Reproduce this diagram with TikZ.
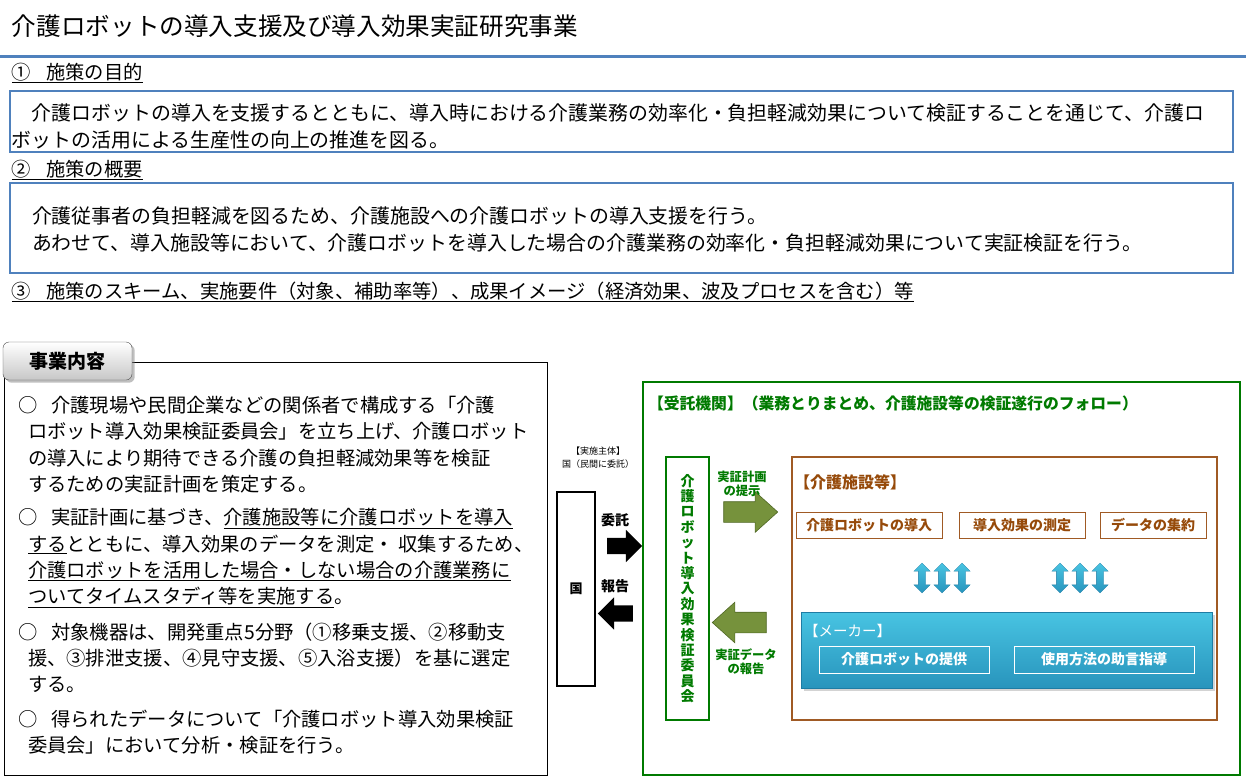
\documentclass[tikz,border=0pt]{standalone}
\usepackage{fontspec}
\setmainfont{Noto Sans CJK JP}
\usepackage{xcolor}
\usepackage{tikz}
\usetikzlibrary{shapes.arrows,positioning,shadows}

\definecolor{lineblue}{RGB}{79,129,189}
\definecolor{itakugreen}{RGB}{0,122,0}
\definecolor{arrowgreen}{RGB}{118,146,60}
\definecolor{arrowgreendk}{RGB}{80,104,38}
\definecolor{shisetsubrown}{RGB}{160,90,36}
\definecolor{shisetsutext}{RGB}{150,74,10}
\definecolor{makertop}{RGB}{72,196,226}
\definecolor{makerbot}{RGB}{40,148,188}
\definecolor{makerline}{RGB}{30,124,164}

\newcommand{\fsz}[2]{\fontsize{#1}{#2}\selectfont}

\begin{document}
\begin{tikzpicture}[
  x=1pt, y=-1pt,
  every node/.style={inner sep=0pt, outer sep=0pt},
  heading/.style ={anchor=west, font=\fsz{19.3}{19.3}},
  bodytext/.style={anchor=west, align=left, font=\fsz{19.9}{27}},
  bluebox/.style ={draw=lineblue, line width=1.3pt, anchor=north west},
  bullet/.style  ={anchor=west, align=left, font=\fsz{19.3}{26.3}},
  gtext/.style   ={text=itakugreen, align=center, font=\bfseries\fsz{12.3}{14}},
  blkarrow/.style={single arrow, fill=black, minimum height=35pt, inner ysep=8pt,
                   single arrow head extend=8pt, single arrow tip angle=90},
  grnarrow/.style={single arrow, draw=arrowgreendk, fill=arrowgreen, line width=0.6pt,
                   minimum height=54pt, inner ysep=10pt,
                   single arrow head extend=10pt, single arrow tip angle=84},
  workbox/.style ={draw=shisetsubrown, line width=1pt, text=shisetsutext,
                   minimum height=26pt, font=\bfseries\fsz{14}{14}},
  updown/.style  ={double arrow, shape border rotate=90, minimum height=30pt,
                   inner sep=3.5pt, double arrow head extend=4.5pt,
                   top color=makertop, bottom color=makerbot, draw=makerline, line width=0.3pt},
  makerbox/.style={draw=white, line width=1pt, text=white, minimum height=27pt,
                   font=\bfseries\fsz{14}{14}}
]
\useasboundingbox (0,0) rectangle (1246,777);

% title and section headings
\node[anchor=west, font=\fsz{24.6}{24.6}] (title) at (12,26) {介護ロボットの導入支援及び導入効果実証研究事業};
\draw[lineblue, line width=3pt] (0,56) -- (1246,56);

\node[heading] (h1) at (12,73) {\underline{①\hspace{15pt}施策の目的}};
\node[bluebox, minimum width=1223pt, minimum height=61pt] (purpose) at (10,91) {};
\node[bodytext] (purposetext) at (12,126.5) {%
  \hspace*{20pt}介護ロボットの導入を支援するとともに、導入時における介護業務の効率化・負担軽減効果について検証することを通じて、介護ロ\\
  ボットの活用による生産性の向上の推進を図る。};

\node[heading] (h2) at (12,170) {\underline{②\hspace{15pt}施策の概要}};
\node[bluebox, minimum width=1223pt, minimum height=90pt] (outline) at (10,183) {};
\node[bodytext] (outlinetext) at (32,229) {%
  介護従事者の負担軽減を図るため、介護施設への介護ロボットの導入支援を行う。\\
  あわせて、導入施設等において、介護ロボットを導入した場合の介護業務の効率化・負担軽減効果について実証検証を行う。};

\node[heading] (h3) at (12,292) {\underline{③\hspace{15pt}施策のスキーム、実施要件（対象、補助率等）、成果イメージ（経済効果、波及プロセスを含む）等}};

% business contents panel
\node[draw, line width=1pt, anchor=north west, minimum width=543pt, minimum height=413pt] (naiyou) at (4,362) {};
\node[draw=black!70, rounded corners=6pt, top color=white, bottom color=black!22,
      minimum width=129pt, minimum height=38pt, drop shadow,
      font=\bfseries\fsz{19}{19}] (tab) at (67.5,361) {事業内容};

\node[bullet] (b1) at (18,444.5) {%
  ○\hspace{14pt}介護現場や民間企業などの関係者で構成する「介護\\
  \hspace*{10pt}ロボット導入効果検証委員会」を立ち上げ、介護ロボット\\
  \hspace*{10pt}の導入により期待できる介護の負担軽減効果等を検証\\
  \hspace*{10pt}するための実証計画を策定する。};
\node[bullet] (b2) at (18,558) {%
  ○\hspace{14pt}実証計画に基づき、\underline{介護施設等に介護ロボットを導入}\\
  \hspace*{10pt}\underline{する}とともに、導入効果のデータを測定・ 収集するため、\\
  \hspace*{10pt}\underline{介護ロボットを活用した場合・しない場合の介護業務に}\\
  \hspace*{10pt}\underline{ついてタイムスタディ等を実施する}。};
\node[bullet] (b3) at (18,658) {%
  ○\hspace{14pt}対象機器は、開発重点5分野（①移乗支援、②移動支\\
  \hspace*{10pt}援、③排泄支援、④見守支援、⑤入浴支援）を基に選定\\
  \hspace*{10pt}する。};
\node[bullet] (b4) at (18,732) {%
  ○\hspace{14pt}得られたデータについて「介護ロボット導入効果検証\\
  \hspace*{10pt}委員会」において分析・検証を行う。};

% the state and its arrows
\node[font=\fsz{9}{13}, align=center] (shutai) at (598,458) {【実施主体】\\国（民間に委託）};
\node[draw, line width=1.5pt, minimum width=38pt, minimum height=194pt, anchor=north west,
      font=\bfseries\fsz{13}{13}] (kuni) at (557,492) {国};
\node[blkarrow] (itaku) at (620.5,546) {};
\node[font=\bfseries\fsz{14}{14}] (itakulabel) at (615,520) {委託};
\node[blkarrow, shape border rotate=180] (houkoku) at (619.5,613.5) {};
\node[font=\bfseries\fsz{14}{14}] (houkokulabel) at (615,586) {報告};

% contracted organisation
\node[draw=itakugreen, line width=1.5pt, anchor=north west, minimum width=597pt,
      minimum height=393pt] (jutaku) at (643,382) {};
\node[anchor=west, text=itakugreen, font=\bfseries\fsz{15.8}{15.8}] (jutakutitle) at (648,403)
  {【受託機関】（業務とりまとめ、介護施設等の検証遂行のフォロー）};
\node[draw=itakugreen, line width=2pt, anchor=north west, minimum width=43pt, minimum height=263pt,
      text=itakugreen, align=center, font=\bfseries\fsz{14}{15.4}] (iinkai) at (666,457)
  {介\\護\\ロ\\ボ\\ッ\\ト\\導\\入\\効\\果\\検\\証\\委\\員\\会};

\node[grnarrow] (teiji) at (745,512) {};
\node[gtext] (teijilabel) at (742,484) {実証計画\\の提示};
\node[grnarrow, shape border rotate=180] (hokoku) at (745,622.5) {};
\node[gtext] (hokokulabel) at (746,662) {実証データ\\の報告};

% care facilities
\node[draw=shisetsubrown, line width=1.5pt, anchor=north west, minimum width=425pt,
      minimum height=263pt] (shisetsu) at (792,457) {};
\node[anchor=west, text=shisetsutext, font=\bfseries\fsz{16}{16}] (shisetsutitle) at (794,482) {【介護施設等】};
\node[workbox, minimum width=146pt] (donyu) at (869,525) {介護ロボットの導入};
\node[workbox, minimum width=126pt, right=17pt of donyu] (sokutei) {導入効果の測定};
\node[workbox, minimum width=106pt, right=15pt of sokutei] (shuyaku) {データの集約};

\node[updown] (ud1) at (922,578) {};
\node[updown] (ud2) at (942,578) {};
\node[updown] (ud3) at (962,578) {};
\node[updown] (ud4) at (1060,578) {};
\node[updown] (ud5) at (1080,578) {};
\node[updown] (ud6) at (1100,578) {};

% makers
\node[anchor=north west, minimum width=411pt, minimum height=76pt, draw=makerline, line width=0.8pt,
      top color=makertop, bottom color=makerbot, drop shadow={opacity=0.35}] (maker) at (801,612) {};
\node[anchor=west, text=white, font=\fsz{14.5}{14.5}] (makertitle) at (804,631) {【メーカー】};
\node[makerbox, minimum width=170pt] (teikyo) at (904,659.5) {介護ロボットの提供};
\node[makerbox, minimum width=180pt] (shido) at (1104,659.5) {使用方法の助言指導};
\end{tikzpicture}
\end{document}
